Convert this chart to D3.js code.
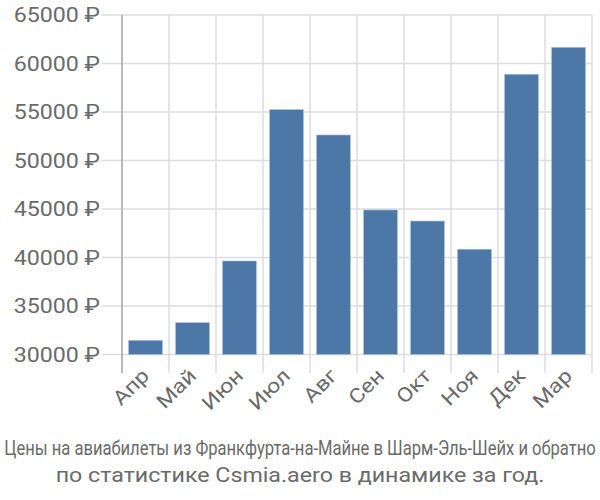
<!DOCTYPE html>
<html>
<head>
<meta charset="utf-8">
<script src="https://cdn.jsdelivr.net/npm/d3@7"></script>
<style>
  body { margin: 0; background: #fff; }
  svg { font-family: Roboto, "Liberation Sans", sans-serif; }
</style>
</head>
<body>
<div class="container"></div>
<script>
const months = ["Апр", "Май", "Июн", "Июл", "Авг", "Сен", "Окт", "Ноя", "Дек", "Мар"];
const prices = [31460, 33280, 39640, 55240, 52630, 44900, 43760, 40850, 58890, 61670];
const yTicks = [30000, 35000, 40000, 45000, 50000, 55000, 60000, 65000];
const titleLines = [
  "Цены на авиабилеты из Франкфурта-на-Майне в Шарм-Эль-Шейх и обратно",
  "по статистике Csmia.aero в динамике за год."
];

const W = 600, H = 500;
const plotLeft = 122, plotRight = 592, plotTop = 15, plotBottom = 354.5;
const stretch = 1.16;

const x = d3.scaleBand().domain(months).range([plotLeft, plotRight])
  .paddingInner(0.28).paddingOuter(0.14);
const y = d3.scaleLinear().domain([30000, 65000]).range([plotBottom, plotTop]);

const svg = d3.select(".container").append("svg")
  .attr("width", W).attr("height", H);

// widen text a bit, the original font runs wider than Roboto
function widen(sel) {
  sel.each(function () {
    const len = this.getComputedTextLength();
    d3.select(this).attr("textLength", len * stretch).attr("lengthAdjust", "spacingAndGlyphs");
  });
}

// horizontal grid
svg.append("g").selectAll("line").data(yTicks).enter().append("line")
  .attr("x1", 102).attr("x2", plotRight)
  .attr("y1", d => y(d)).attr("y2", d => y(d))
  .attr("stroke", "#ddd").attr("stroke-width", 1.5);

// vertical grid (band edges)
const edges = months.map(m => x(m) - x.step() * x.paddingInner() / 2);
edges.push(plotRight);
svg.append("g").selectAll("line").data(edges).enter().append("line")
  .attr("x1", d => d).attr("x2", d => d)
  .attr("y1", plotTop).attr("y2", 373)
  .attr("stroke", "#ddd").attr("stroke-width", 1.5);

// y axis line
svg.append("line")
  .attr("x1", plotLeft).attr("x2", plotLeft).attr("y1", plotTop).attr("y2", 373)
  .attr("stroke", "#aaa").attr("stroke-width", 1.5);

// y labels
svg.append("g").selectAll("text").data(yTicks).enter().append("text")
  .attr("x", 100).attr("y", d => y(d) + 7)
  .attr("text-anchor", "end")
  .attr("font-size", 20).attr("fill", "#6a6a6a")
  .text(d => d + " ₽")
  .call(widen);

// bars
svg.append("g").selectAll("rect").data(prices).enter().append("rect")
  .attr("x", (d, i) => x(months[i]))
  .attr("width", x.bandwidth())
  .attr("y", d => y(d))
  .attr("height", d => y(30000) - y(d))
  .attr("fill", "#4c78a8")
  .attr("stroke", "#a9bfd9").attr("stroke-width", 0.6);

// x labels
svg.append("g").selectAll("text").data(months).enter().append("text")
  .attr("transform", d => `translate(${x(d) + x.bandwidth() / 2 + 5},${377}) rotate(-45)`)
  .attr("text-anchor", "end")
  .attr("font-size", 20).attr("fill", "#6a6a6a")
  .text(d => d)
  .call(widen);

// title, first line squeezed to fit the width
const t1 = svg.append("text")
  .attr("text-anchor", "middle")
  .attr("font-size", 20).attr("fill", "#6a6a6a")
  .text(titleLines[0]);
const w1 = t1.node().getComputedTextLength();
t1.attr("transform", `translate(300,455) scale(${Math.min(1, 592 / w1)},1)`);

svg.append("text")
  .attr("x", 300).attr("y", 482)
  .attr("text-anchor", "middle")
  .attr("font-size", 20).attr("fill", "#6a6a6a")
  .text(titleLines[1])
  .call(widen);
</script>
</body>
</html>
